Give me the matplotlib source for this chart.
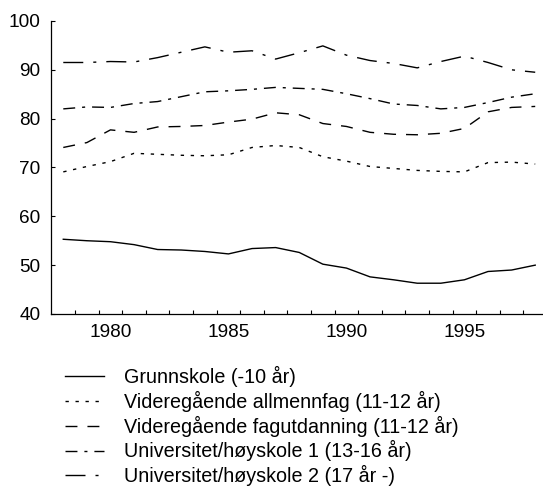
import matplotlib
matplotlib.use("Agg")
import matplotlib.pyplot as plt
import numpy as np

plt.rcParams['font.family'] = ['Liberation Sans', 'DejaVu Sans']

years = list(range(1978, 1999))

grunnskole = [55.3, 55.0, 54.8, 54.2, 53.2, 53.1, 52.8, 52.3, 53.4, 53.6, 52.6,
              50.2, 49.4, 47.6, 47.0, 46.3, 46.3, 47.0, 48.7, 49.0, 50.0]
allmennfag = [69.1, 70.2, 71.2, 72.9, 72.7, 72.5, 72.4, 72.6, 74.1, 74.5, 74.1,
              72.2, 71.3, 70.2, 69.8, 69.4, 69.2, 69.1, 71.0, 71.1, 70.7]
fagutdanning = [74.1, 75.1, 77.7, 77.2, 78.3, 78.4, 78.6, 79.3, 79.9, 81.2, 80.8,
                79.0, 78.4, 77.2, 76.8, 76.7, 77.0, 78.0, 81.4, 82.3, 82.5]
uni1 = [82.0, 82.4, 82.3, 83.1, 83.5, 84.5, 85.5, 85.7, 86.0, 86.4, 86.2,
        86.0, 85.1, 84.1, 83.0, 82.7, 82.0, 82.3, 83.3, 84.4, 85.1]
uni2 = [91.5, 91.5, 91.7, 91.6, 92.5, 93.6, 94.7, 93.6, 93.9, 92.2, 93.5,
        94.9, 93.0, 91.9, 91.3, 90.4, 91.7, 92.8, 91.5, 90.0, 89.5]

labels = ["Grunnskole (-10 år)",
          "Videregående allmennfag (11-12 år)",
          "Videregående fagutdanning (11-12 år)",
          "Universitet/høyskole 1 (13-16 år)",
          "Universitet/høyskole 2 (17 år -)"]

styles = ['-', (0, (2.4, 4.8)), (0, (8.6, 7.2)),
          (0, (8.6, 5, 2.2, 5)), (0, (14.4, 7.2, 2.2, 7.2))]

fig = plt.figure(figsize=(5.43, 4.88), dpi=100)
ax = fig.add_axes([0.0948, 0.3566, 0.9052, 0.6004])

for series, lab, ls in zip([grunnskole, allmennfag, fagutdanning, uni1, uni2], labels, styles):
    ax.plot(years, series, color='black', lw=1.0, ls=ls, label=lab)

ax.set_xlim(1977.5, 1998.33)
ax.set_ylim(40, 100)
ax.set_yticks(range(40, 101, 10))
ax.set_xticks([1980, 1985, 1990, 1995])
ax.set_xticks(np.arange(1978.5, 1998, 1.0), minor=True)
ax.tick_params(axis='x', which='major', length=0, pad=7, labelsize=13.7)
ax.tick_params(axis='x', which='minor', direction='in', length=3, width=0.8)
ax.tick_params(axis='y', direction='in', length=3, width=0.8, pad=8, labelsize=13.7)

ax.spines['top'].set_visible(False)
ax.spines['right'].set_visible(False)
for s in ['left', 'bottom']:
    ax.spines[s].set_linewidth(0.9)

leg = fig.legend(loc='upper left', bbox_to_anchor=(0.119, 0.250), frameon=False,
                 fontsize=14.2, handlelength=2.0, handletextpad=1.0,
                 labelspacing=0.19, borderpad=0, borderaxespad=0)

fig.savefig('out.png', dpi=100)
